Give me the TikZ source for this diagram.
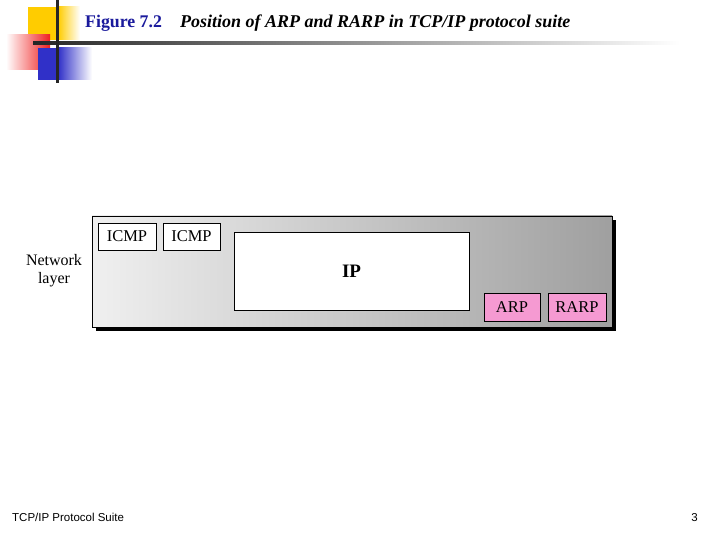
\documentclass[tikz,border=0pt]{standalone}
\usepackage{fontspec}
\setmainfont{Liberation Serif}
\newfontfamily\footfont{Liberation Sans}
\definecolor{figblue}{HTML}{1A1A9C}
\definecolor{deckyellow}{HTML}{FFCC00}
\definecolor{deckred}{HTML}{F02020}
\definecolor{deckblue}{HTML}{3030C8}
\definecolor{arppink}{HTML}{F59AD2}
\tikzset{
	protobox/.style={draw=black, line width=0.8pt, inner sep=0pt, font=\fontsize{16.5}{16.5}\selectfont},
	pinkbox/.style={protobox, fill=arppink, minimum width=57, minimum height=28},
	icmpbox/.style={protobox, fill=white, minimum width=58, minimum height=27}
}
\begin{document}
\begin{tikzpicture}[x=1pt, y=-1pt]
	\useasboundingbox (0,0) rectangle (720,540);
	% slide decoration
	\fill[deckyellow] (28,7) rectangle (58,40);
	\shade[left color=deckyellow, right color=white] (58,7) rectangle (80,40);
	\shade[left color=white, right color=deckred] (6,35) rectangle (50,70);
	\fill[deckblue] (38,48) rectangle (58,80);
	\shade[left color=deckblue, right color=white] (58,48) rectangle (92,80);
	\shade[left color=black!85, right color=white] (33,41.5) rectangle (680,44.5);
	\fill[black!85] (55.5,0) rectangle (58.5,83);
	% title
	\node[anchor=base west, text=figblue, font=\bfseries\fontsize{17.8}{18}\selectfont, inner sep=0pt] (fignum) at (85,28) {Figure 7.2};
	\node[anchor=base west, font=\bfseries\itshape\fontsize{18}{18}\selectfont, inner sep=0pt] (figtitle) at (180,28) {Position of ARP and RARP in TCP/IP protocol suite};
	% network layer
	\fill[black] (96,220) rectangle (616,331);
	\node[draw=black, line width=0.8pt, left color=gray!12, right color=gray!75, minimum width=520, minimum height=111, inner sep=0pt] (layer) at (352,271.5) {};
	\node[icmpbox] (icmp1) at (127,236.5) {ICMP};
	\node[icmpbox, minimum width=57] (icmp2) at (191.5,236.5) {ICMP};
	\node[protobox, fill=white, minimum width=235, minimum height=78, font=\bfseries\fontsize{19}{19}\selectfont] (ip) at (351.5,271) {IP};
	\node[pinkbox, minimum width=56] (arp) at (512,307) {ARP};
	\node[pinkbox, minimum width=58] (rarp) at (577,307) {RARP};
	\node[align=center, font=\fontsize{16}{18}\selectfont] (netlabel) at (54,271) {Network\\layer};
	% footer
	\node[anchor=base west, font=\footfont\fontsize{11.5}{11.5}\selectfont, inner sep=0pt] (suite) at (12,521) {TCP/IP Protocol Suite};
	\node[anchor=base east, font=\footfont\fontsize{11.5}{11.5}\selectfont, inner sep=0pt] (page) at (698,521) {3};
\end{tikzpicture}
\end{document}
